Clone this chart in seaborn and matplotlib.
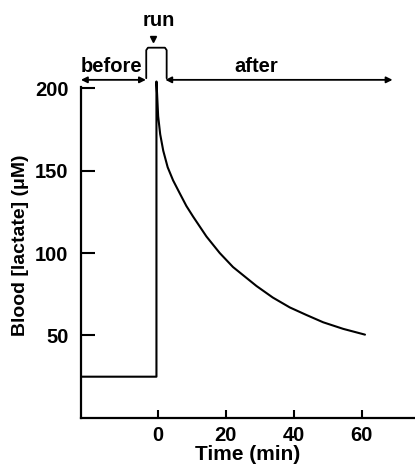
import numpy as np
import pandas as pd
import matplotlib
matplotlib.use("Agg")
import matplotlib.pyplot as plt
import seaborn as sns

# values
time_min = [-22.6, -0.4, -0.4, -0.2, 0.1, 0.7, 1.6, 2.9, 4.5, 6.5, 8.4, 10.4,
            14.3, 18.2, 22.1, 29.0, 33.8, 38.8, 43.6, 48.6, 54.5, 60.9]
lactate_uM = [25, 25, 204, 196, 183, 172, 162, 152, 144, 136, 128.5, 122,
              110, 100, 91.5, 80, 73, 67, 62.5, 58, 54, 50.5]
x_ticks = [0, 20, 40, 60]
y_ticks = [50, 100, 150, 200]

sns.set_style("ticks")
plt.rcParams['font.family'] = ['Liberation Sans', 'DejaVu Sans']
plt.rcParams['text.color'] = 'black'
plt.rcParams['axes.labelcolor'] = 'black'
plt.rcParams['xtick.color'] = 'black'
plt.rcParams['ytick.color'] = 'black'
plt.rcParams['axes.edgecolor'] = 'black'

df = pd.DataFrame({'time': time_min, 'lactate': lactate_uM})

fig = plt.figure(figsize=(4.15, 4.68), dpi=100)
ax = fig.add_axes([0.195, 0.107, 0.805, 0.74])

sns.lineplot(data=df, x='time', y='lactate', ax=ax, color='black',
             sort=False, estimator=None, linewidth=1.5)
ax.lines[0].set_solid_joinstyle('round')

ax.set_xlim(-22.6, 75.6)
ax.set_ylim(0, 210)
ax.set_xticks(x_ticks)
ax.set_yticks(y_ticks)
ax.spines['top'].set_visible(False)
ax.spines['right'].set_visible(False)
ax.spines['left'].set_bounds(0, 200.5)
for s in ['left', 'bottom']:
    ax.spines[s].set_linewidth(1.6)
ax.tick_params(axis='y', direction='in', length=10, width=1.5, pad=9, labelsize=14.5)
ax.tick_params(axis='x', direction='in', length=6, width=1.5, pad=6, labelsize=14.5)
for lab in ax.get_xticklabels() + ax.get_yticklabels():
    lab.set_fontweight('bold')

ax.set_xlabel('Time (min)', fontsize=15, fontweight='bold', labelpad=0)
ax.set_ylabel('Blood [lactate] (μM)', fontsize=14, fontweight='bold', labelpad=4)

# before / run / after annotations above the axes
arrow = dict(arrowstyle='<|-|>', color='black', lw=1.3, mutation_scale=9,
             shrinkA=0, shrinkB=0)
ax.annotate('', xy=(-22.6, 205), xytext=(-3.5, 205), arrowprops=arrow,
            annotation_clip=False)
ax.annotate('', xy=(2.2, 205), xytext=(69, 205), arrowprops=arrow,
            annotation_clip=False)
ax.text(-13.6, 213, 'before', ha='center', va='center', fontsize=14.5,
        fontweight='bold', clip_on=False)
ax.text(29, 213, 'after', ha='center', va='center', fontsize=14.5,
        fontweight='bold', clip_on=False)

run_x = [-3.4, -3.4, -2.9, 2.1, 2.6, 2.6]
run_y = [206, 223, 224.5, 224.5, 223, 206]
ax.plot(run_x, run_y, color='black', lw=1.3, clip_on=False)
ax.plot([-1.3], [229.5], marker='v', color='black', markersize=5,
        clip_on=False)
ax.text(0.4, 241, 'run', ha='center', va='center', fontsize=14.5,
        fontweight='bold', clip_on=False)

fig.savefig('out.png', dpi=100)
